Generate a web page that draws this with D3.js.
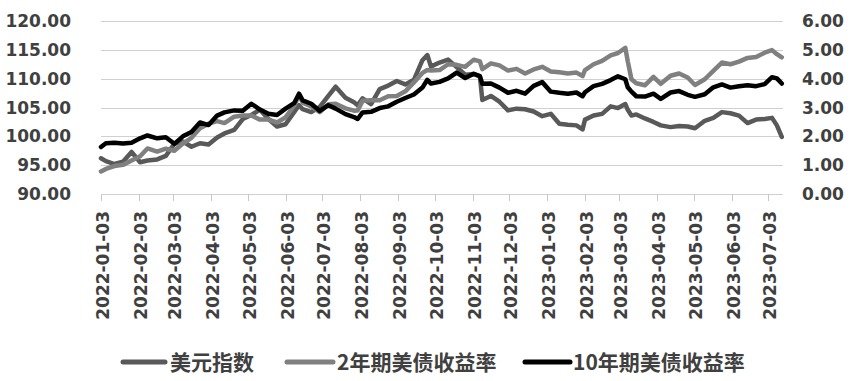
<!DOCTYPE html>
<html>
<head>
<meta charset="utf-8">
<script src="https://cdn.jsdelivr.net/npm/d3@7"></script>
<style>
html,body{margin:0;padding:0;background:#fff;}
svg{display:block;}
</style>
</head>
<body>
<svg id="chart" width="858" height="381"></svg>
<script>
// ---- data ----
const dates = [
"2022-01-03","2022-01-07","2022-01-14","2022-01-21","2022-01-28","2022-02-04","2022-02-10","2022-02-18","2022-02-25",
"2022-03-04","2022-03-11","2022-03-18","2022-03-25","2022-04-01","2022-04-08","2022-04-14","2022-04-22","2022-04-29",
"2022-05-06","2022-05-13","2022-05-20","2022-05-27","2022-06-03","2022-06-10","2022-06-14","2022-06-17","2022-06-24",
"2022-07-01","2022-07-08","2022-07-14","2022-07-22","2022-07-29","2022-08-01","2022-08-05","2022-08-12","2022-08-19",
"2022-08-26","2022-09-02","2022-09-09","2022-09-16","2022-09-23","2022-09-27","2022-09-30","2022-10-07","2022-10-14",
"2022-10-21","2022-10-28","2022-11-04","2022-11-09","2022-11-11","2022-11-18","2022-11-25","2022-12-02","2022-12-09",
"2022-12-16","2022-12-23","2022-12-30",
"2023-01-06","2023-01-13","2023-01-20","2023-01-27","2023-02-01","2023-02-03","2023-02-10","2023-02-17","2023-02-24",
"2023-03-02","2023-03-08","2023-03-10","2023-03-13","2023-03-17","2023-03-24","2023-03-31","2023-04-06","2023-04-14",
"2023-04-21","2023-04-28","2023-05-04","2023-05-12","2023-05-19","2023-05-26","2023-06-02","2023-06-09","2023-06-16",
"2023-06-23","2023-06-30","2023-07-06","2023-07-10","2023-07-14"
];
const usdIndex = [
96.2,95.7,95.2,95.6,97.3,95.5,95.8,96.0,96.6,
98.7,99.1,98.2,98.8,98.6,99.8,100.5,101.1,103.0,
103.7,104.6,103.0,101.7,102.1,104.2,105.4,104.7,104.2,
105.1,107.0,108.6,106.7,105.9,105.4,106.6,105.6,108.2,
108.8,109.6,109.0,109.8,113.2,114.1,112.1,112.8,113.3,
112.0,110.7,110.8,110.4,106.3,107.0,106.0,104.5,104.8,
104.7,104.3,103.5,
103.9,102.2,102.0,101.9,101.2,102.9,103.6,103.9,105.2,
104.9,105.6,104.6,103.6,103.8,103.1,102.5,101.9,101.6,
101.8,101.7,101.4,102.7,103.2,104.2,104.0,103.6,102.3,
102.9,103.0,103.2,101.9,99.9
];
const yield2y = [
0.78,0.87,0.97,1.01,1.16,1.31,1.58,1.47,1.57,
1.50,1.75,1.95,2.28,2.44,2.53,2.46,2.68,2.72,
2.72,2.58,2.58,2.48,2.66,3.06,3.43,3.17,3.04,
2.84,3.11,3.13,2.97,2.89,2.90,3.23,3.25,3.25,
3.39,3.40,3.56,3.87,4.20,4.30,4.28,4.30,4.50,
4.48,4.41,4.66,4.60,4.33,4.53,4.46,4.28,4.34,
4.18,4.32,4.41,
4.25,4.22,4.18,4.21,4.09,4.30,4.50,4.62,4.81,
4.89,5.07,4.60,3.98,3.84,3.77,4.06,3.82,4.10,
4.18,4.04,3.78,3.98,4.27,4.56,4.50,4.59,4.72,
4.75,4.90,4.99,4.85,4.74
];
const yield10y = [
1.63,1.76,1.78,1.75,1.78,1.93,2.03,1.93,1.97,
1.74,2.00,2.15,2.48,2.39,2.72,2.83,2.90,2.89,
3.13,2.93,2.78,2.74,2.96,3.15,3.48,3.25,3.13,
2.88,3.08,2.96,2.77,2.67,2.60,2.83,2.85,2.98,
3.04,3.20,3.33,3.45,3.69,3.96,3.83,3.89,4.01,
4.21,4.02,4.17,4.09,3.82,3.83,3.69,3.51,3.58,
3.48,3.75,3.88,
3.55,3.51,3.48,3.52,3.39,3.53,3.74,3.82,3.95,
4.08,3.98,3.70,3.55,3.39,3.38,3.48,3.30,3.52,
3.57,3.44,3.37,3.46,3.70,3.80,3.69,3.74,3.77,
3.74,3.81,4.05,4.01,3.83
];
const leftTicks = [90,95,100,105,110,115,120];
const rightTicks = [0,1,2,3,4,5,6];
const xTickDates = [
"2022-01-03","2022-02-03","2022-03-03","2022-04-03","2022-05-03","2022-06-03","2022-07-03","2022-08-03","2022-09-03",
"2022-10-03","2022-11-03","2022-12-03","2023-01-03","2023-02-03","2023-03-03","2023-04-03","2023-05-03","2023-06-03","2023-07-03"
];
const seriesNames = ["美元指数","2年期美债收益率","10年期美债收益率"];

// ---- drawing ----
const parse = d3.timeParse("%Y-%m-%d");
const svg = d3.select("#chart");
const x = d3.scaleTime().domain([parse("2022-01-03"), parse("2023-07-15")]).range([101, 783]);
const yL = d3.scaleLinear().domain([90,120]).range([194,21]);
const yR = d3.scaleLinear().domain([0,6]).range([194,21]);

const textColor = "#404040";
const axisFont = "'DejaVu Sans', sans-serif";

// gridlines
svg.append("g").selectAll("line").data(leftTicks).join("line")
  .attr("x1",101).attr("x2",783)
  .attr("y1",d=>Math.round(yL(d))+0.5).attr("y2",d=>Math.round(yL(d))+0.5)
  .attr("stroke","#d0d0d0").attr("stroke-width",1);

// x ticks
const xt = xTickDates.map(parse);
svg.append("g").selectAll("line").data(xt).join("line")
  .attr("x1",d=>Math.round(x(d))+0.5).attr("x2",d=>Math.round(x(d))+0.5)
  .attr("y1",194).attr("y2",201)
  .attr("stroke","#c8c8c8").attr("stroke-width",1);

// x labels
svg.append("g").selectAll("text").data(xt).join("text")
  .attr("transform",d=>`translate(${x(d)+8},211) rotate(-90)`)
  .attr("text-anchor","end")
  .attr("font-family",axisFont).attr("font-weight","bold").attr("font-size",17)
  .attr("fill",textColor)
  .text(d3.timeFormat("%Y-%m-%d"));

// left labels
svg.append("g").selectAll("text").data(leftTicks).join("text")
  .attr("x",71).attr("y",d=>yL(d)).attr("dy","0.36em")
  .attr("text-anchor","end")
  .attr("font-family",axisFont).attr("font-weight","bold").attr("font-size",17)
  .attr("fill",textColor)
  .text(d=>d.toFixed(2));

// right labels
svg.append("g").selectAll("text").data(rightTicks).join("text")
  .attr("x",802).attr("y",d=>yR(d)).attr("dy","0.36em")
  .attr("text-anchor","start")
  .attr("font-family",axisFont).attr("font-weight","bold").attr("font-size",17)
  .attr("fill",textColor)
  .text(d=>d.toFixed(2));

// lines
const pts = dates.map(parse);
const colors = ["#595959","#808080","#000000"];
const lineL = d3.line().x((d,i)=>x(pts[i])).y(d=>yL(d)).curve(d3.curveLinear);
const lineR = d3.line().x((d,i)=>x(pts[i])).y(d=>yR(d)).curve(d3.curveLinear);
svg.append("path").datum(usdIndex).attr("d",lineL).attr("fill","none")
  .attr("stroke",colors[0]).attr("stroke-width",4.5).attr("stroke-linejoin","round").attr("stroke-linecap","round");
svg.append("path").datum(yield2y).attr("d",lineR).attr("fill","none")
  .attr("stroke",colors[1]).attr("stroke-width",4.5).attr("stroke-linejoin","round").attr("stroke-linecap","round");
svg.append("path").datum(yield10y).attr("d",lineR).attr("fill","none")
  .attr("stroke",colors[2]).attr("stroke-width",4.5).attr("stroke-linejoin","round").attr("stroke-linecap","round");

// legend
const legendPos = [{x1:123,x2:165,tx:170},{x1:287,x2:333,tx:337},{x1:525,x2:570,tx:573}];
const lg = svg.append("g");
seriesNames.forEach((name,i)=>{
  const p = legendPos[i];
  lg.append("line").attr("x1",p.x1).attr("x2",p.x2).attr("y1",362).attr("y2",362)
    .attr("stroke",colors[i]).attr("stroke-width",5).attr("stroke-linecap","round");
  lg.append("text").attr("x",p.tx).attr("y",362).attr("dy","0.36em")
    .attr("font-family","'Noto Sans CJK SC', sans-serif").attr("font-weight","bold").attr("font-size",21)
    .attr("fill",textColor).text(name);
});
</script>
</body>
</html>
